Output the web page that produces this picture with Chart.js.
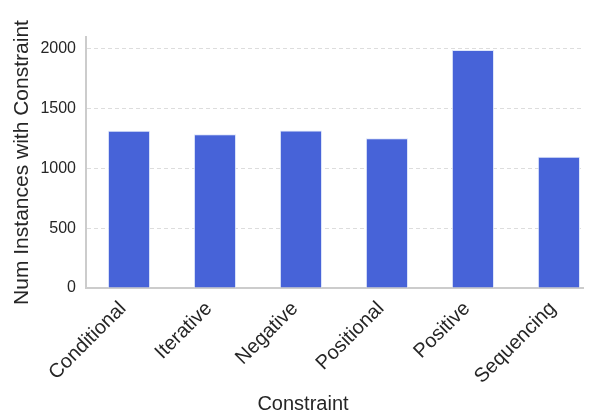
<!DOCTYPE html>
<html>
<head>
<meta charset="utf-8">
<script src="https://cdn.jsdelivr.net/npm/chart.js@4.4.0/dist/chart.umd.min.js"></script>
<style>
  html, body { margin: 0; padding: 0; background: #fff; overflow: hidden; }
  #wrap { width: 593px; height: 419px; position: relative; }
</style>
</head>
<body>
<div id="wrap"><canvas id="myBarChart"></canvas></div>
<script>
// Datos del gráfico
const categorias = ['Conditional', 'Iterative', 'Negative', 'Positional', 'Positive', 'Sequencing'];
const cantidades = [1315, 1287, 1318, 1252, 1992, 1098];
const ticksY = [0, 500, 1000, 1500, 2000];

const fuente = "'Liberation Sans', Arial, Helvetica, sans-serif";
const colorTexto = '#262626';

// Título del eje X dibujado a mano (matplotlib lo deja algo a la izquierda)
const tituloX = {
    id: 'tituloX',
    afterDraw(chart) {
        const ctx = chart.ctx;
        ctx.save();
        ctx.font = '20px ' + fuente;
        ctx.fillStyle = colorTexto;
        ctx.textAlign = 'center';
        ctx.textBaseline = 'middle';
        ctx.fillText('Constraint', 303, 404);
        ctx.restore();
    }
};

const ctx = document.getElementById('myBarChart').getContext('2d');
const barChart = new Chart(ctx, {
    type: 'bar',
    data: {
        datasets: [{
            data: categorias.map((c, i) => ({ x: i, y: cantidades[i] })),
            backgroundColor: '#4763d8',
            borderColor: 'rgba(220, 228, 250, 0.9)',
            borderWidth: 1,
            barPercentage: 0.49,
            categoryPercentage: 1
        }]
    },
    options: {
        responsive: true,
        maintainAspectRatio: false,
        animation: false,
        layout: { padding: { top: 37, right: 10, left: 0, bottom: 0 } },
        plugins: {
            legend: { display: false },
            tooltip: { enabled: false }
        },
        scales: {
            x: {
                type: 'linear',
                offset: false,
                min: -0.5,
                max: 5.28,
                afterBuildTicks: (scale) => {
                    scale.ticks = categorias.map((c, i) => ({ value: i }));
                },
                afterFit: (scale) => { scale.height = 131; },
                grid: { display: false, drawTicks: false },
                border: { display: true, color: '#cccccc', width: 2 },
                ticks: {
                    autoSkip: false,
                    minRotation: 45,
                    maxRotation: 45,
                    padding: 9,
                    labelOffset: -6,
                    color: colorTexto,
                    font: { family: fuente, size: 20 },
                    callback: (v) => categorias[v]
                }
            },
            y: {
                min: 0,
                max: 2100,
                afterBuildTicks: (scale) => {
                    scale.ticks = ticksY.map(v => ({ value: v }));
                },
                afterFit: (scale) => { scale.width = 86; },
                grid: {
                    color: '#dddddd',
                    lineWidth: 1,
                    drawTicks: false
                },
                border: { display: true, color: '#cccccc', width: 2, dash: [4, 3] },
                ticks: {
                    padding: 10,
                    color: colorTexto,
                    font: { family: fuente, size: 16 },
                    callback: (v) => String(v)
                },
                title: {
                    display: true,
                    text: 'Num Instances with Constraint',
                    color: colorTexto,
                    font: { family: fuente, size: 21 },
                    padding: { top: 10, bottom: 0 }
                }
            }
        }
    },
    plugins: [tituloX]
});
</script>
</body>
</html>
